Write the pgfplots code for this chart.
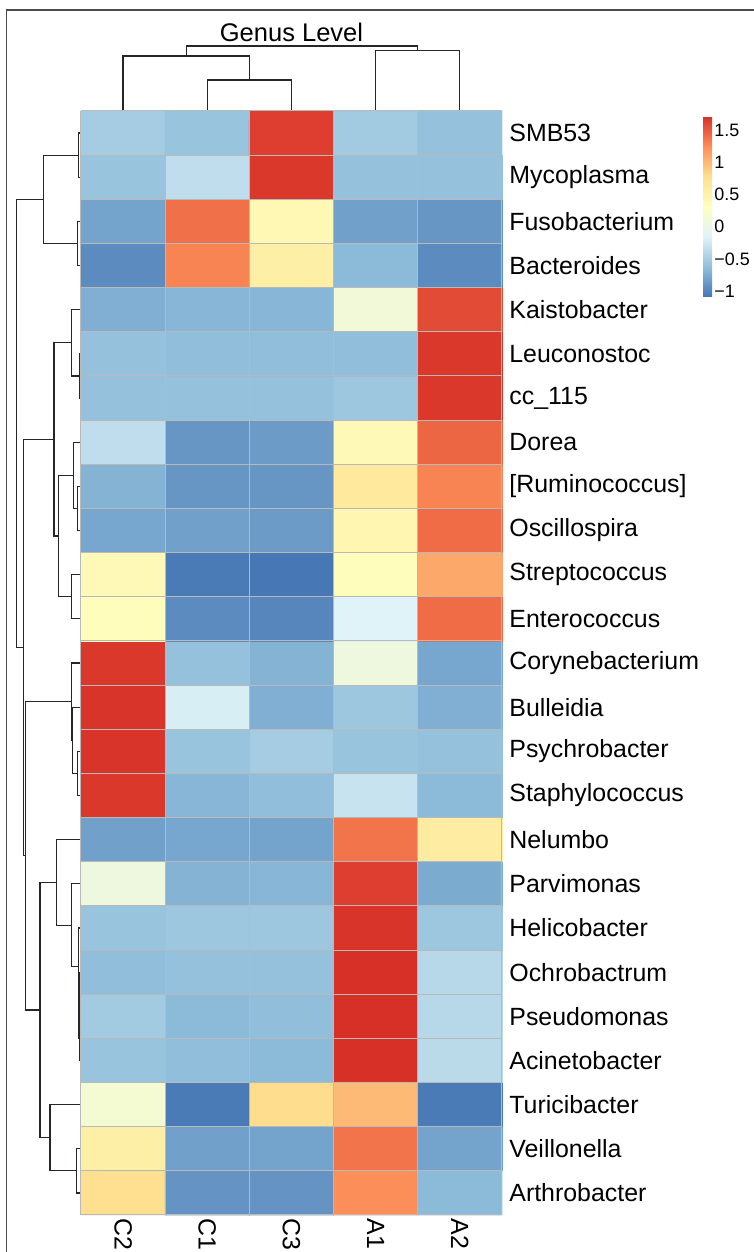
\documentclass[border=0pt]{standalone}
\usepackage{pgfplots}
\usepackage{pgfplotstable}
\pgfplotsset{compat=1.18}
\usepackage{fontspec}
\setmainfont{Liberation Sans}

% cell values, bottom row (Arthrobacter) first; columns C2 C1 C3 A1 A2
\pgfplotstableread{
x y c
0.5 0.5 0.78
1.5 0.5 -0.9
2.5 0.5 -0.9
3.5 0.5 1.25
4.5 0.5 -0.65
0.5 1.5 0.55
1.5 1.5 -0.82
2.5 1.5 -0.8
3.5 1.5 1.38
4.5 1.5 -0.8
0.5 2.5 0.15
1.5 2.5 -1.05
2.5 2.5 0.8
3.5 2.5 1.0
4.5 2.5 -1.05
0.5 3.5 -0.58
1.5 3.5 -0.62
2.5 3.5 -0.65
3.5 3.5 1.72
4.5 3.5 -0.38
0.5 4.5 -0.52
1.5 4.5 -0.65
2.5 4.5 -0.62
3.5 4.5 1.72
4.5 4.5 -0.4
0.5 5.5 -0.62
1.5 5.5 -0.6
2.5 5.5 -0.6
3.5 5.5 1.72
4.5 5.5 -0.4
0.5 6.5 -0.58
1.5 6.5 -0.55
2.5 6.5 -0.55
3.5 6.5 1.7
4.5 6.5 -0.55
0.5 7.5 0.05
1.5 7.5 -0.7
2.5 7.5 -0.68
3.5 7.5 1.65
4.5 7.5 -0.75
0.5 8.5 -0.82
1.5 8.5 -0.78
2.5 8.5 -0.8
3.5 8.5 1.38
4.5 8.5 0.6
0.5 9.5 1.68
1.5 9.5 -0.68
2.5 9.5 -0.62
3.5 9.5 -0.3
4.5 9.5 -0.65
0.5 10.5 1.7
1.5 10.5 -0.58
2.5 10.5 -0.5
3.5 10.5 -0.58
4.5 10.5 -0.6
0.5 11.5 1.7
1.5 11.5 -0.2
2.5 11.5 -0.72
3.5 11.5 -0.55
4.5 11.5 -0.72
0.5 12.5 1.68
1.5 12.5 -0.6
2.5 12.5 -0.7
3.5 12.5 0.05
4.5 12.5 -0.78
0.5 13.5 0.35
1.5 13.5 -0.95
2.5 13.5 -0.98
3.5 13.5 -0.15
4.5 13.5 1.42
0.5 14.5 0.4
1.5 14.5 -1.05
2.5 14.5 -1.08
3.5 14.5 0.35
4.5 14.5 1.1
0.5 15.5 -0.78
1.5 15.5 -0.82
2.5 15.5 -0.85
3.5 15.5 0.45
4.5 15.5 1.42
0.5 16.5 -0.7
1.5 16.5 -0.88
2.5 16.5 -0.88
3.5 16.5 0.65
4.5 16.5 1.3
0.5 17.5 -0.35
1.5 17.5 -0.88
2.5 17.5 -0.85
3.5 17.5 0.4
4.5 17.5 1.45
0.5 18.5 -0.6
1.5 18.5 -0.6
2.5 18.5 -0.6
3.5 18.5 -0.55
4.5 18.5 1.68
0.5 19.5 -0.6
1.5 19.5 -0.62
2.5 19.5 -0.62
3.5 19.5 -0.62
4.5 19.5 1.68
0.5 20.5 -0.72
1.5 20.5 -0.68
2.5 20.5 -0.68
3.5 20.5 0.1
4.5 20.5 1.58
0.5 21.5 -0.95
1.5 21.5 1.3
2.5 21.5 0.55
3.5 21.5 -0.65
4.5 21.5 -0.95
0.5 22.5 -0.8
1.5 22.5 1.4
2.5 22.5 0.42
3.5 22.5 -0.82
4.5 22.5 -0.88
0.5 23.5 -0.58
1.5 23.5 -0.35
2.5 23.5 1.68
3.5 23.5 -0.6
4.5 23.5 -0.6
0.5 24.5 -0.5
1.5 24.5 -0.58
2.5 24.5 1.65
3.5 24.5 -0.52
4.5 24.5 -0.6
}\heat

\pgfplotsset{dendro/.style={black!85, line width=0.6bp, mark=none, forget plot}}

\begin{document}
\begin{tikzpicture}
\begin{axis}[
  x=42.1bp, y=22.08bp,
  xmin=0, xmax=5, ymin=0, ymax=25,
  clip=false, axis on top,
  axis line style={draw=none},
  xtick={0.5,1.5,...,4.5},
  xticklabels={C2,C1,C3,A1,A2},
  ytick={0.5,1.5,...,24.5},
  yticklabels={Arthrobacter,Veillonella,Turicibacter,Acinetobacter,Pseudomonas,
    Ochrobactrum,Helicobacter,Parvimonas,Nelumbo,Staphylococcus,Psychrobacter,
    Bulleidia,Corynebacterium,Enterococcus,Streptococcus,Oscillospira,
    {[Ruminococcus]},Dorea,cc\_115,Leuconostoc,Kaistobacter,Bacteroides,
    Fusobacterium,Mycoplasma,SMB53},
  yticklabel pos=right,
  ticklabel style={font=\fontsize{12.5}{14}\selectfont},
  yticklabel style={anchor=west, inner sep=3.5bp},
  xticklabel style={rotate=-90, anchor=west, inner sep=1.5bp},
  minor xtick={0,...,5}, minor ytick={0,...,25},
  grid=minor,
  minor grid style={gray!55, line width=0.5bp},
  major tick length=0pt, minor tick length=0pt,
  title={Genus Level},
  title style={at={(0.5,1.0607)}, anchor=center, font=\fontsize{12.8}{14}\selectfont},
  colormap={rdylbu}{rgb255=(69,117,180) rgb255=(145,191,219) rgb255=(224,243,248)
    rgb255=(255,255,191) rgb255=(254,224,144) rgb255=(252,141,89) rgb255=(215,48,39)},
  point meta min=-1.09, point meta max=1.72,
  colorbar,
  colorbar style={
    at={(parent axis.north east)}, anchor=north west,
    xshift=92bp, yshift=-2.5bp,
    scale only axis, width=4.5bp, height=90.5bp,
    axis line style={draw=none}, grid=none,
    major tick length=0pt,
    ytick={-1,-0.5,0,0.5,1,1.5},
    yticklabels={−1,−0.5,0,0.5,1,1.5},
    yticklabel style={font=\fontsize{9}{10}\selectfont, inner sep=1bp},
  },
]
\addplot[matrix plot*, mesh/cols=5, point meta=explicit] table[meta=c] {\heat};

% column dendrogram
\addplot[dendro] coordinates {(1.5,25) (1.5,25.702) (2.5,25.702) (2.5,25)};
\addplot[dendro] coordinates {(0.5,25) (0.5,26.245) (2,26.245) (2,25.702)};
\addplot[dendro] coordinates {(3.5,25) (3.5,26.365) (4.5,26.365) (4.5,25)};
\addplot[dendro] coordinates {(1.25,26.245) (1.25,26.47) (4,26.47) (4,26.365)};

% row dendrogram
\addplot[dendro] coordinates {(0,24.5) (-0.032,24.5) (-0.032,23.5) (0,23.5)};
\addplot[dendro] coordinates {(0,22.5) (-0.039,22.5) (-0.039,21.5) (0,21.5)};
\addplot[dendro] coordinates {(-0.032,24) (-0.448,24) (-0.448,22) (-0.039,22)};
\addplot[dendro] coordinates {(0,19.5) (-0.012,19.5) (-0.012,18.5) (0,18.5)};
\addplot[dendro] coordinates {(0,20.5) (-0.110,20.5) (-0.110,19) (-0.012,19)};
\addplot[dendro] coordinates {(0,16.5) (-0.039,16.5) (-0.039,15.5) (0,15.5)};
\addplot[dendro] coordinates {(0,17.5) (-0.091,17.5) (-0.091,16) (-0.039,16)};
\addplot[dendro] coordinates {(0,14.5) (-0.110,14.5) (-0.110,13.5) (0,13.5)};
\addplot[dendro] coordinates {(-0.091,16.75) (-0.270,16.75) (-0.270,14) (-0.110,14)};
\addplot[dendro] coordinates {(-0.110,19.75) (-0.321,19.75) (-0.321,15.375) (-0.270,15.375)};
\addplot[dendro] coordinates {(0,10.5) (-0.039,10.5) (-0.039,9.5) (0,9.5)};
\addplot[dendro] coordinates {(0,11.5) (-0.099,11.5) (-0.099,10) (-0.039,10)};
\addplot[dendro] coordinates {(0,12.5) (-0.110,12.5) (-0.110,10.75) (-0.099,10.75)};
\addplot[dendro] coordinates {(0,4.5) (-0.012,4.5) (-0.012,3.5) (0,3.5)};
\addplot[dendro] coordinates {(0,5.5) (-0.024,5.5) (-0.024,4) (-0.012,4)};
\addplot[dendro] coordinates {(0,6.5) (-0.032,6.5) (-0.032,4.75) (-0.024,4.75)};
\addplot[dendro] coordinates {(0,7.5) (-0.110,7.5) (-0.110,5.625) (-0.032,5.625)};
\addplot[dendro] coordinates {(0,8.5) (-0.289,8.5) (-0.289,6.5625) (-0.110,6.5625)};
\addplot[dendro] coordinates {(0,1.5) (-0.051,1.5) (-0.051,0.5) (0,0.5)};
\addplot[dendro] coordinates {(0,2.5) (-0.368,2.5) (-0.368,1) (-0.051,1)};
\addplot[dendro] coordinates {(-0.289,7.531) (-0.487,7.531) (-0.487,1.75) (-0.368,1.75)};
\addplot[dendro] coordinates {(-0.110,11.625) (-0.662,11.625) (-0.662,4.641) (-0.487,4.641)};
\addplot[dendro] coordinates {(-0.321,17.5625) (-0.685,17.5625) (-0.685,8.133) (-0.662,8.133)};
\addplot[dendro] coordinates {(-0.448,23) (-0.764,23) (-0.764,12.848) (-0.685,12.848)};

% frame of the figure (left and top edges)
\addplot[black!70, line width=0.75bp, mark=none, forget plot]
  coordinates {(-0.882,-0.838) (-0.882,27.287) (7.993,27.287)};

\coordinate (bl) at (axis cs:-0.962,-0.838);
\coordinate (tr) at (axis cs:7.993,27.514);
\end{axis}
\pgfresetboundingbox
\path (bl) rectangle (tr);
\end{tikzpicture}
\end{document}
